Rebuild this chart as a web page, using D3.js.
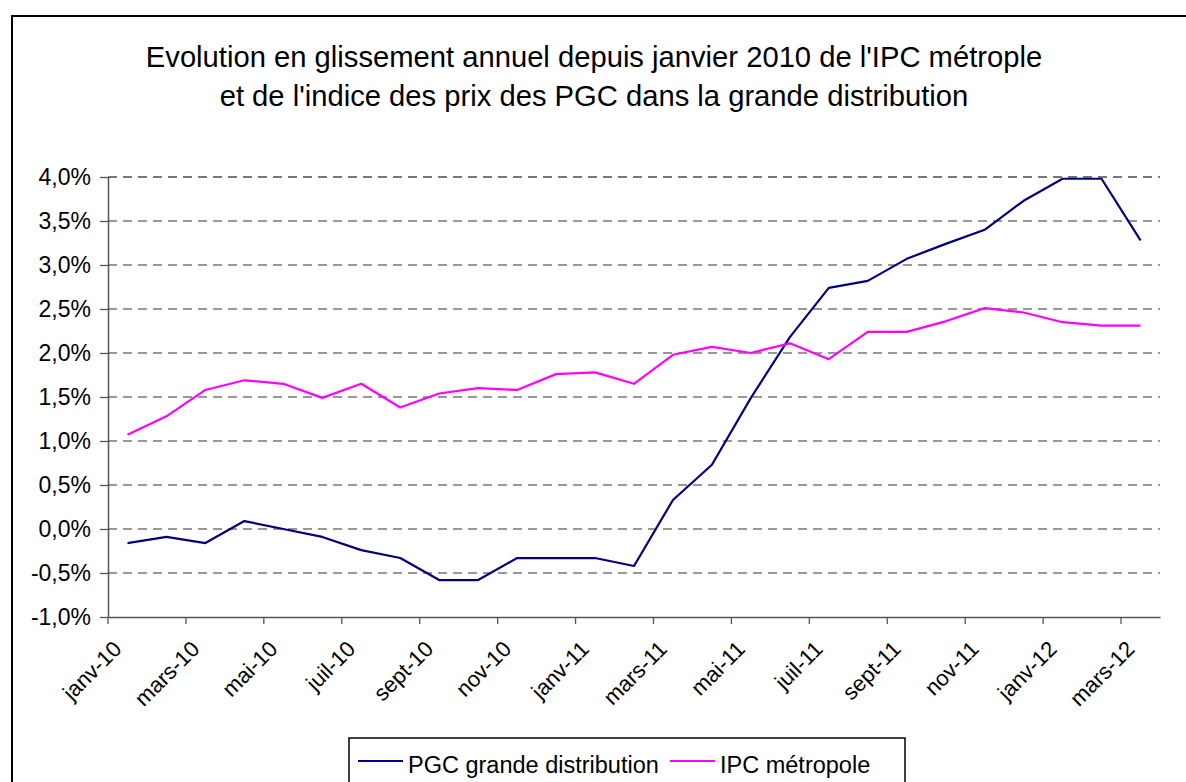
<!DOCTYPE html>
<html>
<head>
<meta charset="utf-8">
<script src="https://cdnjs.cloudflare.com/ajax/libs/d3/7.8.5/d3.min.js"></script>
<style>
  body { margin: 0; background: #fff; }
  svg { display: block; font-family: "Liberation Sans", Arial, sans-serif; }
</style>
</head>
<body>
<div id="graph"></div>
<script>
var months = ["janv-10", "févr-10", "mars-10", "avr-10", "mai-10", "juin-10", "juil-10", "août-10",
  "sept-10", "oct-10", "nov-10", "déc-10", "janv-11", "févr-11", "mars-11", "avr-11", "mai-11",
  "juin-11", "juil-11", "août-11", "sept-11", "oct-11", "nov-11", "déc-11", "janv-12", "févr-12", "mars-12"];

var pgc = [-0.16, -0.09, -0.16, 0.09, 0.0, -0.09, -0.24, -0.33, -0.58, -0.58, -0.33, -0.33, -0.33,
  -0.42, 0.33, 0.73, 1.49, 2.18, 2.74, 2.82, 3.07, 3.24, 3.40, 3.73, 3.98, 3.98, 3.28];

var ipc = [1.07, 1.28, 1.58, 1.69, 1.65, 1.49, 1.65, 1.38, 1.54, 1.60, 1.58, 1.76, 1.78, 1.65, 1.98,
  2.07, 2.00, 2.11, 1.93, 2.24, 2.24, 2.36, 2.51, 2.46, 2.35, 2.31, 2.31];

var yTicks = [-1.0, -0.5, 0.0, 0.5, 1.0, 1.5, 2.0, 2.5, 3.0, 3.5, 4.0];

var seriesNames = ["PGC grande distribution", "IPC métropole"];
var seriesColors = ["#000080", "#ff00ff"];

var titleLines = ["Evolution en glissement annuel depuis janvier 2010 de l'IPC métrople",
  "et de l'indice des prix des PGC dans la grande distribution"];

window.onload = start;

function start() {
  var width = 1186, height = 782;
  var margin = {top: 177, right: 26, bottom: 165, left: 108};

  var svg = d3.select('#graph').append('svg')
      .attr('width', width)
      .attr('height', height);

  // outer chart frame (runs off the right and bottom edges)
  svg.append('rect')
      .attr('x', 12).attr('y', 16)
      .attr('width', 1200).attr('height', 800)
      .attr('fill', 'none').attr('stroke', '#000').attr('stroke-width', 2);

  svg.selectAll('.title').data(titleLines).enter().append('text')
      .attr('x', 594)
      .attr('y', function(d, i) { return 67 + i * 39; })
      .attr('text-anchor', 'middle')
      .attr('font-size', 29.2)
      .attr('fill', '#000')
      .text(function(d) { return d; });

  var w = width - margin.left - margin.right,
      h = height - margin.top - margin.bottom;

  var g = svg.append('g').attr('transform', 'translate(' + margin.left + ',' + margin.top + ')');

  var x = d3.scaleBand().domain(months).range([0, w]).padding(0);
  var bw = x.bandwidth();
  var y = d3.scaleLinear().domain([-1, 4]).range([h, 0]);

  // gridlines
  g.selectAll('.grid').data(yTicks.filter(function(d) { return d > -1; })).enter().append('line')
      .attr('x1', 0).attr('x2', w)
      .attr('y1', function(d) { return y(d); })
      .attr('y2', function(d) { return y(d); })
      .attr('stroke', '#777')
      .attr('stroke-width', function(d) { return d === 4 ? 2 : 1.3; })
      .attr('stroke-dasharray', '9,6');

  var yAxis = d3.axisLeft(y)
      .tickValues(yTicks)
      .tickSize(8)
      .tickSizeOuter(0)
      .tickFormat(function(d) { return d.toFixed(1).replace('.', ',') + '%'; });

  g.append('g').call(customYAxis);

  function customYAxis(sel) {
    sel.call(yAxis);
    sel.select('.domain').attr('stroke', '#555').attr('stroke-width', 1.5);
    sel.selectAll('.tick line').attr('stroke', '#555').attr('stroke-width', 1.3);
    sel.selectAll('.tick text')
        .attr('x', -17)
        .attr('font-size', 23)
        .attr('font-family', '"Liberation Sans", Arial, sans-serif')
        .attr('fill', '#000');
  }

  var xAxis = d3.axisBottom(x)
      .tickValues(months.filter(function(d, i) { return i % 2 === 0; }))
      .tickSize(7)
      .tickSizeOuter(0);

  g.append('g')
      .attr('transform', 'translate(0,' + h + ')')
      .call(customXAxis);

  function customXAxis(sel) {
    sel.call(xAxis);
    sel.select('.domain').attr('stroke', '#555').attr('stroke-width', 1.5);
    // ticks sit on category boundaries, labels on category centres
    sel.selectAll('.tick line')
        .attr('x1', -bw / 2).attr('x2', -bw / 2)
        .attr('stroke', '#555').attr('stroke-width', 1.3);
    sel.selectAll('.tick text')
        .attr('font-size', 22)
        .attr('font-family', '"Liberation Sans", Arial, sans-serif')
        .attr('fill', '#000')
        .attr('text-anchor', 'end')
        .attr('x', 0).attr('y', 0).attr('dy', '0.35em')
        .attr('transform', 'translate(-10,28) rotate(-45)');
  }

  var line = d3.line()
      .x(function(d, i) { return x(months[i]) + bw / 2; })
      .y(function(d) { return y(d); });

  [pgc, ipc].forEach(function(s, k) {
    g.append('path')
        .datum(s)
        .attr('d', line)
        .attr('fill', 'none')
        .attr('stroke', seriesColors[k])
        .attr('stroke-width', 2.2)
        .attr('stroke-linejoin', 'round');
  });

  // legend
  var lg = svg.append('g').attr('transform', 'translate(349,738)');
  lg.append('rect')
      .attr('width', 556).attr('height', 80)
      .attr('fill', '#fff').attr('stroke', '#000').attr('stroke-width', 1.5);

  var itemX = [9, 321];
  var items = lg.selectAll('.item').data(seriesNames).enter().append('g')
      .attr('transform', function(d, i) { return 'translate(' + itemX[i] + ',0)'; });
  items.append('line')
      .attr('x1', 0).attr('x2', 45)
      .attr('y1', 23).attr('y2', 23)
      .attr('stroke', function(d, i) { return seriesColors[i]; })
      .attr('stroke-width', 2);
  items.append('text')
      .attr('x', 50).attr('y', 27)
      .attr('dy', '0.35em')
      .attr('font-size', 23.5)
      .attr('fill', '#000')
      .text(function(d) { return d; });
}
</script>
</body>
</html>
